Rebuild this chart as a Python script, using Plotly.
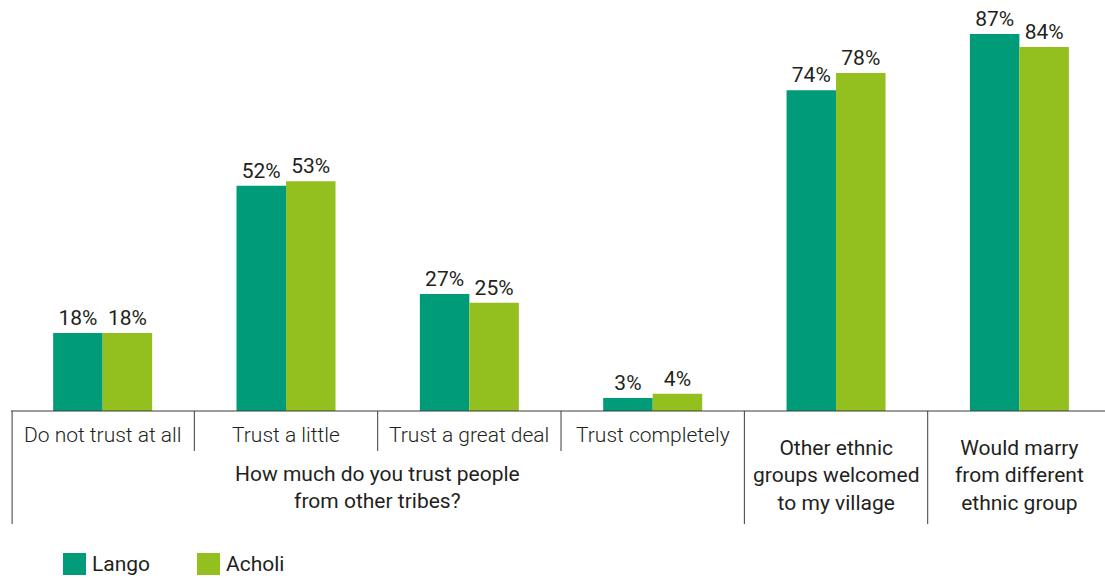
import plotly.graph_objects as go

# Survey answers (share of respondents, %)
categories = [
    "Do not trust at all",
    "Trust a little",
    "Trust a great deal",
    "Trust completely",
    "Other ethnic groups welcomed to my village",
    "Would marry from different ethnic group",
]
category_labels = [
    "Do not trust at all",
    "Trust a little",
    "Trust a great deal",
    "Trust completely",
    "Other ethnic<br>groups welcomed<br>to my village",
    "Would marry<br>from different<br>ethnic group",
]
group_label = "How much do you trust people<br>from other tribes?"
lango = [18, 52, 27, 3, 74, 87]
acholi = [18, 53, 25, 4, 78, 84]

LANGO_COLOR = "#009B78"
ACHOLI_COLOR = "#93C01F"
TEXT_COLOR = "#231F20"
LINE_COLOR = "#3A3A3A"
FONT = "Roboto"
FS = 21

W, H = 1105, 578
M_L, M_T = 11, 0
PLOT_H = 411
X_MIN, X_MAX = -0.5, 5.467


def px_x(xv):
    """Data-x (category index) -> paper x."""
    return (xv - X_MIN) / (X_MAX - X_MIN)


def py(pixel_y):
    """Pixel row -> paper y."""
    return (M_T + PLOT_H - pixel_y) / PLOT_H


fig = go.Figure()
for name, vals, col in [("Lango", lango, LANGO_COLOR), ("Acholi", acholi, ACHOLI_COLOR)]:
    fig.add_trace(go.Bar(
        name=name,
        x=categories,
        y=vals,
        marker=dict(color=col, line=dict(width=0)),
        text=[f"{v}%" for v in vals],
        textposition="outside",
        textfont=dict(family=FONT, size=FS, color=TEXT_COLOR, weight=400),
        cliponaxis=False,
        showlegend=False,
    ))

shapes = []
# baseline of the category axis
shapes.append(dict(type="line", xref="paper", yref="paper", x0=px_x(-0.5), x1=1,
                   y0=0, y1=0, line=dict(color=LINE_COLOR, width=1)))
# short dividers between inner categories
for b in [0.5, 1.5, 2.5]:
    shapes.append(dict(type="line", xref="paper", yref="paper", x0=px_x(b), x1=px_x(b),
                       y0=0, y1=py(451), line=dict(color=LINE_COLOR, width=1)))
# long dividers between outer groups
for b in [-0.5, 3.5, 4.5]:
    xb = px_x(b) + (0.001 if b == -0.5 else 0)
    shapes.append(dict(type="line", xref="paper", yref="paper", x0=xb, x1=xb,
                       y0=0, y1=py(524), line=dict(color=LINE_COLOR, width=1)))

annotations = []
for i in range(4):
    annotations.append(dict(x=categories[i], xref="x", y=py(435), yref="paper",
                            text=category_labels[i], showarrow=False,
                            xanchor="center", yanchor="middle",
                            font=dict(family=FONT, size=FS, color=TEXT_COLOR, weight=300)))
annotations.append(dict(x=px_x(1.5), xref="paper", y=py(487), yref="paper",
                        text=group_label, showarrow=False,
                        xanchor="center", yanchor="middle",
                        font=dict(family=FONT, size=FS, color=TEXT_COLOR)))
for i in [4, 5]:
    annotations.append(dict(x=categories[i], xref="x", y=py(476), yref="paper",
                            text=category_labels[i], showarrow=False,
                            xanchor="center", yanchor="middle",
                            font=dict(family=FONT, size=FS, color=TEXT_COLOR)))

# legend drawn as swatches + labels
for name, col, sx in [("Lango", LANGO_COLOR, 63), ("Acholi", ACHOLI_COLOR, 197)]:
    shapes.append(dict(type="rect", xref="paper", yref="paper",
                       x0=(sx - M_L) / (W - M_L), x1=(sx + 23 - M_L) / (W - M_L),
                       y0=py(575), y1=py(553), fillcolor=col, line=dict(width=0)))
    annotations.append(dict(x=(sx + 27 - M_L) / (W - M_L), xref="paper", y=py(564), yref="paper",
                            text=name, showarrow=False, xanchor="left", yanchor="middle",
                            font=dict(family=FONT, size=FS, color=TEXT_COLOR)))

fig.update_layout(
    width=W, height=H,
    margin=dict(l=M_L, r=0, t=M_T, b=H - PLOT_H - M_T, pad=0),
    barmode="group",
    bargap=0.46,
    bargroupgap=0,
    plot_bgcolor="white",
    paper_bgcolor="white",
    font=dict(family=FONT, color=TEXT_COLOR),
    xaxis=dict(range=[X_MIN, X_MAX], showticklabels=False, showgrid=False,
               zeroline=False, showline=False, ticks="", fixedrange=True),
    yaxis=dict(range=[0, 94.85], visible=False, showgrid=False, zeroline=False,
               fixedrange=True),
    shapes=shapes,
    annotations=annotations,
)

fig.write_html("out.html", config={"displayModeBar": False})
